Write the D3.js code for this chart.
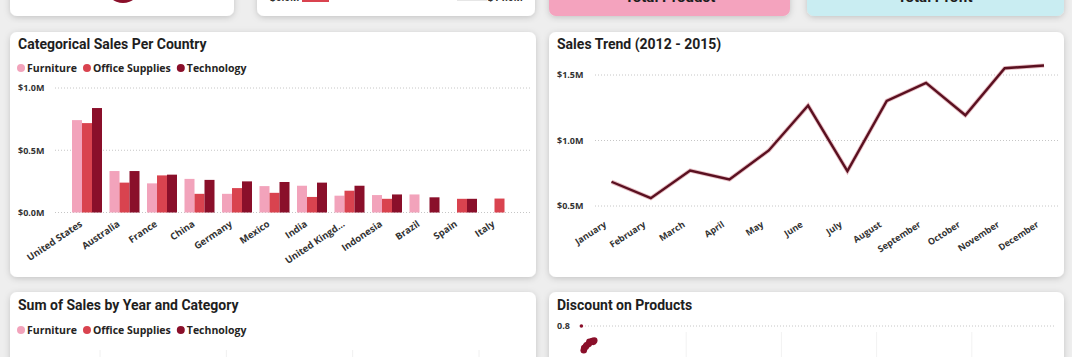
<!DOCTYPE html>
<html>
<head>
<meta charset="utf-8">
<script src="https://cdn.jsdelivr.net/npm/d3@7"></script>
<style>
  html, body { margin: 0; padding: 0; background: #eeeeee; }
  svg { display: block; }
</style>
</head>
<body>
<svg id="chart" width="1072" height="357"></svg>
<script>
// ---------------- DATA ----------------
const categories = ["Furniture", "Office Supplies", "Technology"];
const countries = ["United States", "Australia", "France", "China", "Germany", "Mexico",
  "India", "United Kingd...", "Indonesia", "Brazil", "Spain", "Italy"];
// sales in $M
const furnitureSales = [0.742, 0.333, 0.234, 0.270, 0.150, 0.212, 0.215, 0.135, 0.140, 0.145, null, null];
const officeSales    = [0.718, 0.240, 0.298, 0.150, 0.196, 0.158, 0.125, 0.175, 0.110, null, 0.110, 0.112];
const techSales      = [0.839, 0.333, 0.304, 0.262, 0.250, 0.245, 0.240, 0.215, 0.145, 0.122, 0.110, null];
const barTicks = [0, 0.5, 1.0];

const months = ["January", "February", "March", "April", "May", "June", "July",
  "August", "September", "October", "November", "December"];
const monthSales = [0.685, 0.560, 0.771, 0.702, 0.924, 1.267, 0.766, 1.303, 1.440, 1.193, 1.552, 1.572];
const lineTicks = [0.5, 1.0, 1.5];

// Discount on Products (visible part): sales (k$) vs discount
const discSales = [0.25, 0.5, 0.55, 0.7, 0.8, 1.0, 1.1, 1.2, 1.4, 1.5, 1.6];
const discValue = [0.80, 0.690, 0.700, 0.706, 0.712, 0.718, 0.728, 0.726, 0.732, 0.728, 0.734];
const discTicks = [0.8];

const colors = ["#f2a3bb", "#d9434f", "#8a0f2a"];

// ---------------- SETUP ----------------
const svg = d3.select("#chart");
const defs = svg.append("defs");
const f = defs.append("filter").attr("id", "shadow").attr("x", "-5%").attr("y", "-10%").attr("width", "110%").attr("height", "125%");
f.append("feDropShadow").attr("dx", 0).attr("dy", 1.5).attr("stdDeviation", 3).attr("flood-color", "#000").attr("flood-opacity", 0.18);

const titleFont = "Roboto, 'DejaVu Sans', sans-serif";
const labelFont = "'Open Sans', 'Noto Sans', sans-serif";

function card(x, y, w, h, fill) {
  svg.append("rect").attr("x", x).attr("y", y).attr("width", w).attr("height", h)
    .attr("rx", 7).attr("ry", 7).attr("fill", fill || "#ffffff").attr("filter", "url(#shadow)");
}
function title(x, y, t) {
  svg.append("text").attr("x", x).attr("y", y).text(t)
    .attr("font-family", titleFont).attr("font-weight", 700).attr("font-size", 14)
    .attr("fill", "#1e1e1e");
}
function legend(x, y) {
  let cx = x;
  const g = svg.append("g");
  categories.forEach((c, i) => {
    g.append("circle").attr("cx", cx + 4).attr("cy", y).attr("r", 4).attr("fill", colors[i]);
    const t = g.append("text").attr("x", cx + 10).attr("y", y + 3.8).text(c)
      .attr("font-family", labelFont).attr("font-weight", 700).attr("font-size", 10.5).attr("fill", "#252423");
    cx += 10 + t.node().getComputedTextLength() + 6;
  });
}

// ---------------- TOP ROW (partial cards) ----------------
card(10, -30, 224, 46);
svg.append("ellipse").attr("cx", 123).attr("cy", -13).attr("rx", 17).attr("ry", 16).attr("fill", "#8a0f2a");
card(257, -30, 278, 46);
svg.append("text").attr("x", 270).attr("y", 1).text("$0.0M")
  .attr("font-family", labelFont).attr("font-weight", 700).attr("font-size", 10).attr("fill", "#333");
svg.append("rect").attr("x", 302).attr("y", -10).attr("width", 27).attr("height", 12).attr("fill", "#d9434f");
svg.append("rect").attr("x", 457).attr("y", -10).attr("width", 30).attr("height", 11).attr("fill", "#e6e6e6");
svg.append("text").attr("x", 523).attr("y", 1).attr("text-anchor", "end").text("$14.0M")
  .attr("font-family", labelFont).attr("font-weight", 700).attr("font-size", 10).attr("fill", "#333");
card(549, -30, 241, 46, "#f4a3be");
svg.append("text").attr("x", 670).attr("y", 2).attr("text-anchor", "middle").text("Total Product")
  .attr("font-family", titleFont).attr("font-weight", 700).attr("font-size", 15).attr("fill", "#1e1e1e");
card(807, -30, 257, 46, "#c9edf2");
svg.append("text").attr("x", 935).attr("y", 2).attr("text-anchor", "middle").text("Total Profit")
  .attr("font-family", titleFont).attr("font-weight", 700).attr("font-size", 15).attr("fill", "#1e1e1e");

// ---------------- CATEGORICAL SALES PER COUNTRY ----------------
card(10, 32, 526, 245);
title(18, 49, "Categorical Sales Per Country");
legend(17, 68);

const xb = d3.scaleBand().domain(countries).range([64.5, 522]).paddingInner(0.2).paddingOuter(0.2);
const xs = d3.scaleBand().domain(categories).range([0, xb.bandwidth()]);
const yb = d3.scaleLinear().domain([0, 1.0]).range([212.5, 88]);

const gridB = svg.append("g");
barTicks.forEach(t => {
  gridB.append("line").attr("x1", 55).attr("x2", 530).attr("y1", yb(t)).attr("y2", yb(t))
    .attr("stroke", "#c6c6c6").attr("stroke-width", 1).attr("stroke-dasharray", "1,2");
  gridB.append("text").attr("x", 18).attr("y", yb(t) + 3.3).text("$" + d3.format(".1f")(t) + "M")
    .attr("font-family", labelFont).attr("font-weight", 700).attr("font-size", 9).attr("fill", "#333");
});

const series = [furnitureSales, officeSales, techSales];
const barG = svg.append("g");
countries.forEach((c, i) => {
  series.forEach((s, k) => {
    const v = s[i];
    if (v == null) return;
    barG.append("rect").attr("x", xb(c) + xs(categories[k])).attr("y", yb(v))
      .attr("width", xs.bandwidth()).attr("height", yb(0) - yb(v)).attr("fill", colors[k]);
  });
});

const xAxisB = svg.append("g").attr("transform", `translate(0,${yb(0)})`)
  .call(d3.axisBottom(xb).tickSize(0).tickPadding(0));
xAxisB.select(".domain").remove();
xAxisB.selectAll("text")
  .attr("font-family", labelFont).attr("font-weight", 700).attr("font-size", 9.5).attr("fill", "#333")
  .attr("text-anchor", "end").attr("dy", 0).attr("y", 0)
  .attr("transform", "translate(-4,13) rotate(-34)");

// ---------------- SALES TREND ----------------
card(549, 32, 515, 245);
title(557, 49, "Sales Trend (2012 - 2015)");

const xl = d3.scalePoint().domain(months).range([611.5, 1044]);
const yl = d3.scaleLinear().domain([0.5, 1.5]).range([206, 75]);

const gridL = svg.append("g");
lineTicks.forEach(t => {
  gridL.append("line").attr("x1", 595).attr("x2", 1058).attr("y1", yl(t)).attr("y2", yl(t))
    .attr("stroke", "#c6c6c6").attr("stroke-width", 1).attr("stroke-dasharray", "1,2");
  gridL.append("text").attr("x", 557).attr("y", yl(t) + 3.3).text("$" + d3.format(".1f")(t) + "M")
    .attr("font-family", labelFont).attr("font-weight", 700).attr("font-size", 9).attr("fill", "#333");
});

const lineGen = d3.line().x((d, i) => xl(months[i])).y(d => yl(d));
svg.append("path").datum(monthSales).attr("d", lineGen).attr("fill", "none")
  .attr("stroke", "#c86a78").attr("stroke-opacity", 0.45).attr("stroke-width", 4.2).attr("stroke-linejoin", "miter");
svg.append("path").datum(monthSales).attr("d", lineGen).attr("fill", "none")
  .attr("stroke", "#5a1020").attr("stroke-width", 2.4).attr("stroke-linejoin", "miter");

const xAxisL = svg.append("g").attr("transform", `translate(0,${yl(0.5)})`)
  .call(d3.axisBottom(xl).tickSize(0).tickPadding(0));
xAxisL.select(".domain").remove();
xAxisL.selectAll("text")
  .attr("font-family", labelFont).attr("font-weight", 700).attr("font-size", 9).attr("fill", "#333")
  .attr("text-anchor", "end").attr("dy", 0).attr("y", 0)
  .attr("transform", "translate(-5,20) rotate(-33)");

// ---------------- SUM OF SALES BY YEAR AND CATEGORY ----------------
card(10, 292, 526, 90);
title(18, 310, "Sum of Sales by Year and Category");
legend(17, 330);
const yearGridX = d3.scaleLinear().domain([0, 3]).range([100, 479]);
d3.range(0, 4).forEach(i => {
  svg.append("line").attr("x1", yearGridX(i)).attr("x2", yearGridX(i)).attr("y1", 350).attr("y2", 357)
    .attr("stroke", "#f0f0f0").attr("stroke-width", 1);
});

// ---------------- DISCOUNT ON PRODUCTS ----------------
card(549, 292, 515, 90);
title(557, 310, "Discount on Products");
const xd = d3.scaleLinear().domain([0, 50]).range([579, 1055]);
const yd = d3.scaleLinear().domain([0.6, 0.8]).range([370, 326]);
discTicks.forEach(t => {
  svg.append("line").attr("x1", 585).attr("x2", 1055).attr("y1", yd(t)).attr("y2", yd(t))
    .attr("stroke", "#c6c6c6").attr("stroke-width", 1).attr("stroke-dasharray", "1,2");
  svg.append("text").attr("x", 557).attr("y", yd(t) + 3.3).text(d3.format(".1f")(t))
    .attr("font-family", labelFont).attr("font-weight", 700).attr("font-size", 9).attr("fill", "#333");
});
[10, 20, 30, 40].forEach(t => {
  svg.append("line").attr("x1", xd(t) + 12).attr("x2", xd(t) + 12).attr("y1", 332).attr("y2", 357)
    .attr("stroke", "#f2f2f2").attr("stroke-width", 1);
});
discSales.forEach((s, i) => {
  svg.append("circle").attr("cx", xd(s)).attr("cy", yd(discValue[i])).attr("r", i === 0 ? 1.8 : 3.3)
    .attr("fill", "#8a0f2a");
});
</script>
</body>
</html>
